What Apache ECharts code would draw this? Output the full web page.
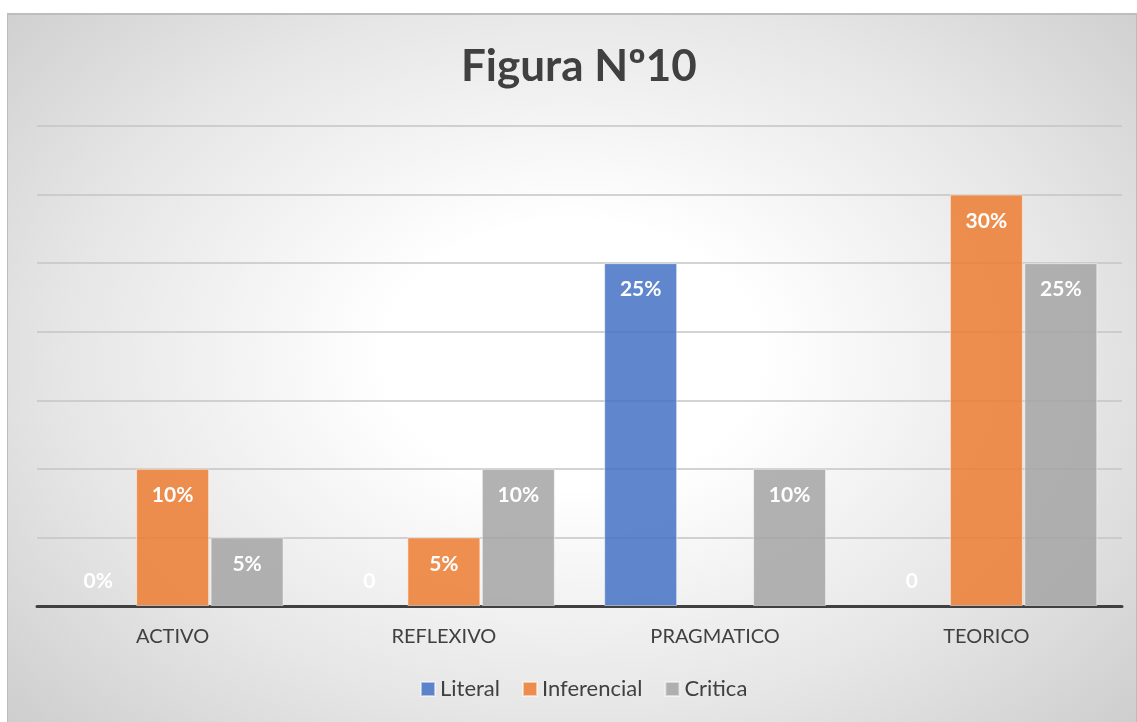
<!DOCTYPE html>
<html><head><meta charset="utf-8">
<script src="https://cdn.jsdelivr.net/npm/echarts@6/dist/echarts.min.js"></script>
<style>
html,body{margin:0;padding:0;background:#fff;width:1137px;height:722px;overflow:hidden;}
#bg{position:absolute;left:7px;top:13px;width:1128px;height:709px;border:1px solid #bdbdbd;border-top-width:2px;
background:radial-gradient(ellipse 75% 85% at 50% 48%, #ffffff 0%, #ffffff 22%, #e6e6e6 60%, #c6c6c6 100%);}
#chart{position:absolute;left:0;top:0;width:1137px;height:722px;}
</style></head>
<body><div id="bg"></div><div id="chart"></div>
<script>
const categories = ['ACTIVO', 'REFLEXIVO', 'PRAGMATICO', 'TEORICO'];
const seriesNames = ['Literal', 'Inferencial', 'Critica'];
const literal = [0, 0, 25, 0];
const inferencial = [10, 5, null, 30];
const critica = [5, 10, 10, 25];
const literalLabels = ['0%', '0', '25%', '0'];
const inferencialLabels = ['10%', '5%', '', '30%'];
const criticaLabels = ['5%', '10%', '10%', '25%'];
const colors = ['rgba(68,114,196,0.85)', 'rgba(237,125,49,0.85)', 'rgba(165,165,165,0.85)'];

const FONT = 'Lato, "Open Sans", sans-serif';
function mk(name, vals, labels, color) {
  return {
    name: name, type: 'bar', barWidth: 73, barGap: '2%',
    itemStyle: {color: color, borderColor: 'rgba(255,255,255,0.5)', borderWidth: 1},
    data: vals.map((v, i) => {
      const d = {value: v};
      const zero = v === 0;
      if (zero) d.itemStyle = {borderWidth: 0, color: 'rgba(0,0,0,0)'};
      d.label = {
        show: v !== null, position: zero ? 'top' : 'insideTop', distance: zero ? 14 : 16,
        formatter: labels[i], color: '#ffffff', fontWeight: 'bold', fontSize: 21, fontFamily: FONT
      };
      return d;
    })
  };
}
const chart = echarts.init(document.getElementById('chart'));
chart.setOption({
  animation: false,
  color: colors,
  title: {text: 'Figura Nº10', left: 456, top: 40,
    textStyle: {fontSize: 44, fontWeight: 'bold', color: '#404040', fontFamily: FONT}},
  legend: {data: seriesNames, bottom: 17, left: 415, itemWidth: 14, itemHeight: 14, itemGap: 22,
    icon: 'rect', textStyle: {fontSize: 22, color: '#404040', fontFamily: FONT}},
  grid: {left: 37, right: 15, top: 126, bottom: 116},
  xAxis: {type: 'category', data: categories,
    axisLine: {lineStyle: {color: '#404040', width: 3}}, axisTick: {show: false},
    axisLabel: {fontSize: 20, color: '#404040', margin: 21, fontFamily: FONT}},
  yAxis: {type: 'value', min: 0, max: 35, interval: 5,
    axisLabel: {show: false}, axisLine: {show: false}, axisTick: {show: false},
    splitLine: {lineStyle: {color: '#c4c4c4', width: 1.5}}},
  series: [
    mk(seriesNames[0], literal, literalLabels, colors[0]),
    mk(seriesNames[1], inferencial, inferencialLabels, colors[1]),
    mk(seriesNames[2], critica, criticaLabels, colors[2])
  ]
});
</script></body></html>
